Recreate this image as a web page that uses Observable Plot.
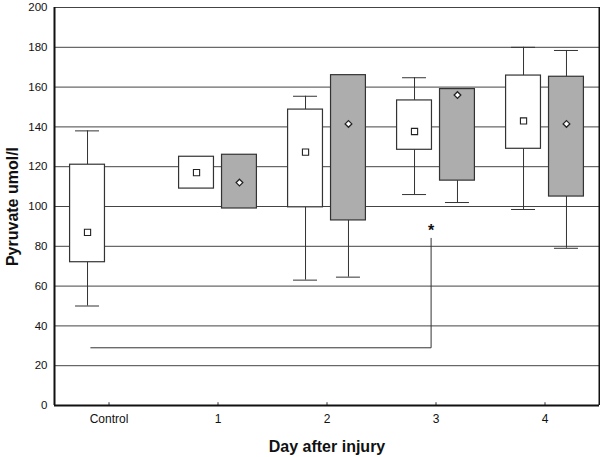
<!DOCTYPE html>
<html><head><meta charset="utf-8">
<script src="https://cdn.jsdelivr.net/npm/d3@7"></script>
<script src="https://cdn.jsdelivr.net/npm/@observablehq/plot@0.6"></script>
<style>body{margin:0;background:#fff;}</style>
</head><body><div id="chart"></div>
<script>
// ---- data ----
const days = ["Control", "1", "2", "3", "4"];
const yTicks = [0, 20, 40, 60, 80, 100, 120, 140, 160, 180, 200];

// white boxes (square mean marker)
const whiteLow  = [50,  null, 63,    106,   98.5];
const whiteQ1   = [72,  109,  99.6,  128.5, 129];
const whiteQ3   = [121, 125,  148.7, 153.3, 165.8];
const whiteHigh = [138, null, 155.4, 164.7, 180];
const whiteMean = [87,  117,  127.3, 137.7, 143];

// grey boxes (diamond mean marker)
const grayLow  = [null, null, 64.5,  102,  79];
const grayQ1   = [null, 99,   93,    113,  105];
const grayQ3   = [null, 126,  166,   159,  165.2];
const grayHigh = [null, null, null,  null, 178.4];
const grayMean = [null, 112,  141.5, 156,  141.5];

// significance bracket: Control vs day 3
const sigFrom = "Control", sigTo = "3";
const sigBase = 29, sigTop = 84, sigStar = 88, sigLabel = "*";

// ---- layout constants ----
const xDomain = [-0.5, days.length - 0.5];
const seriesOffset = {white: -0.197, gray: 0.197};
const boxHalf = 0.16, capHalf = 0.11;
const font = "'Liberation Sans', Arial, Helvetica, sans-serif";

function build(series, low, q1, q3, high, mean) {
  return days.map((d, i) => ({
    day: d, series, pos: i + seriesOffset[series],
    low: low[i], q1: q1[i], q3: q3[i], high: high[i], mean: mean[i]
  })).filter(r => r.q1 != null);
}
const boxes = [
  ...build("white", whiteLow, whiteQ1, whiteQ3, whiteHigh, whiteMean),
  ...build("gray", grayLow, grayQ1, grayQ3, grayHigh, grayMean)
];
const upper = boxes.filter(b => b.high != null);
const lower = boxes.filter(b => b.low != null);

const xFrom = days.indexOf(sigFrom) + seriesOffset.white + 0.03;
const xTo = days.indexOf(sigTo) - 0.045;
const bracket = [[xFrom, sigBase], [xTo, sigBase], [xTo, sigTop]];

const stroke = "#333";
const chart = Plot.plot({
  width: 600, height: 457,
  marginTop: 7, marginBottom: 52, marginLeft: 54, marginRight: 1,
  style: {fontFamily: font, color: "#111", background: "#fff"},
  x: {type: "linear", domain: xDomain, axis: null, label: null},
  y: {domain: [0, 200], axis: null, label: null},
  marks: [
    Plot.ruleY(yTicks, {stroke: "#444", strokeWidth: 1}),
    Plot.ruleX(upper, {x: "pos", y1: "q3", y2: "high", stroke}),
    Plot.ruleX(lower, {x: "pos", y1: "low", y2: "q1", stroke}),
    Plot.ruleY(upper, {y: "high", x1: d => d.pos - capHalf, x2: d => d.pos + capHalf, stroke}),
    Plot.ruleY(lower, {y: "low", x1: d => d.pos - capHalf, x2: d => d.pos + capHalf, stroke}),
    Plot.rect(boxes, {
      x1: d => d.pos - boxHalf, x2: d => d.pos + boxHalf, y1: "q1", y2: "q3",
      fill: d => d.series === "white" ? "#ffffff" : "#adadad",
      stroke, strokeWidth: 1.2
    }),
    Plot.dot(boxes.filter(b => b.series === "white"), {
      x: "pos", y: "mean", symbol: "square", r: 3.5, fill: "#fff", stroke: "#222", strokeWidth: 1.1
    }),
    Plot.dot(boxes.filter(b => b.series === "gray"), {
      x: "pos", y: "mean", symbol: "diamond2", r: 3, fill: "#fff", stroke: "#222", strokeWidth: 1.3
    }),
    Plot.line(bracket, {x: d => d[0], y: d => d[1], stroke, strokeWidth: 1}),
    Plot.text([sigLabel], {x: xTo, y: sigStar, text: d => d, fontSize: 16, fontWeight: "bold", fill: "#111"}),
    Plot.ruleX(d3.range(days.length), {y1: 0, y2: 1.4, stroke}),
    Plot.axisX(d3.range(days.length), {
      tickFormat: i => days[i], tickSize: 0, tickPadding: 9, fontSize: 12, label: null
    }),
    Plot.axisY(yTicks, {tickSize: 0, tickPadding: 7, fontSize: 11.5, label: null}),
    Plot.ruleX(xDomain, {stroke: "#111", strokeWidth: 2}),
    Plot.ruleY([0], {stroke: "#111", strokeWidth: 2}),
    Plot.text(["Pyruvate umol/l"], {
      text: d => d, frameAnchor: "left", dx: -42, rotate: -90,
      textAnchor: "middle", lineAnchor: "middle",
      fontSize: 16, fontWeight: "bold", fill: "#111"
    }),
    Plot.text(["Day after injury"], {
      text: d => d, frameAnchor: "bottom", dy: 41,
      textAnchor: "middle", lineAnchor: "middle",
      fontSize: 16, fontWeight: "bold", fill: "#111"
    })
  ]
});
document.getElementById("chart").appendChild(chart);
</script>
</body></html>
